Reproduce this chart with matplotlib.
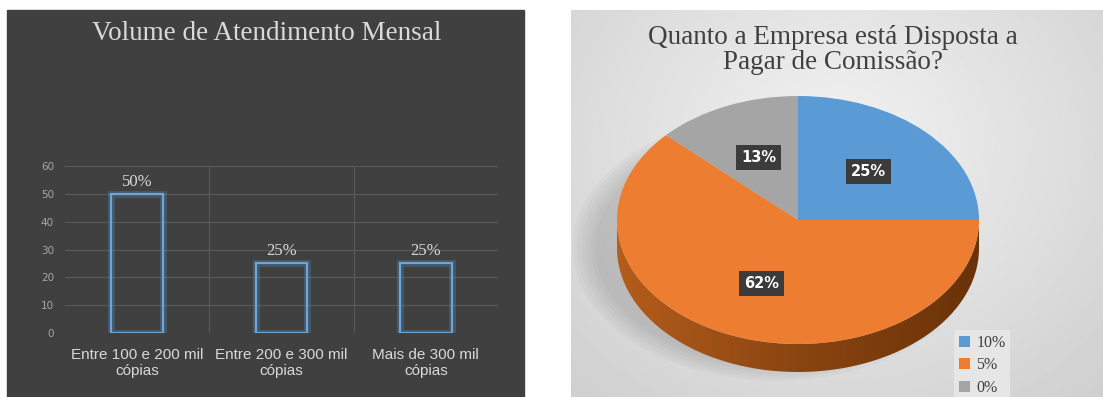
import numpy as np
import matplotlib
matplotlib.use('Agg')
import matplotlib.pyplot as plt
from matplotlib.patches import Rectangle, Polygon, Ellipse
from matplotlib.colors import LinearSegmentedColormap

# dados - grafico de barras
faixas = ['Entre 100 e 200 mil\ncópias', 'Entre 200 e 300 mil\ncópias', 'Mais de 300 mil\ncópias']
volume = [50, 25, 25]
volume_rotulos = ['50%', '25%', '25%']
y_ticks = [0, 10, 20, 30, 40, 50, 60]

# dados - pizza
comissao = ['10%', '5%', '0%']
comissao_pct = [25, 62, 13]
cores_pie = ['#5b9bd5', '#ed7d31', '#a5a5a5']

W, H = 1103, 397
fig = plt.figure(figsize=(W / 100, H / 100), dpi=100)
fig.patch.set_facecolor('white')


def box(x0, y0, x1, y1):
    # pixels (origem no topo) -> fracao da figura
    return [x0 / W, 1 - y1 / H, (x1 - x0) / W, (y1 - y0) / H]


serif = 'Liberation Serif'
sans = 'Liberation Sans'

# ---------------- painel esquerdo ----------------
fig.add_artist(Rectangle((7 / W, 0), (524 - 7) / W, 1 - 10 / H,
                         transform=fig.transFigure, color='#404040', zorder=0))

ax1 = fig.add_axes(box(65, 166, 498, 333))
ax1.set_facecolor('none')
x = np.arange(len(faixas))
ax1.bar(x, volume, width=0.36, facecolor='none', edgecolor='#5b9bd5', lw=5, alpha=0.25, zorder=3)
ax1.bar(x, volume, width=0.36, facecolor='none', edgecolor='#6aa6dc', lw=1.6, zorder=4)
for i, v in enumerate(volume):
    ax1.annotate(volume_rotulos[i], (i, v), xytext=(0, 3), textcoords='offset points',
                 ha='center', va='bottom', family=serif, fontsize=12, color='#d9d9d9')
ax1.set_xlim(-0.5, 2.5)
ax1.set_ylim(0, 60)
ax1.set_yticks(y_ticks)
ax1.set_xticks(x)
ax1.set_xticklabels(faixas, family=sans, fontsize=11, color='#d9d9d9', linespacing=1.2)
ax1.tick_params(axis='y', length=0, labelsize=7.5, labelcolor='#a6a6a6', pad=8)
ax1.tick_params(axis='x', length=0, pad=11)
ax1.yaxis.grid(True, color='#5a5a5a', lw=0.8)
ax1.set_axisbelow(True)
for xv in [0.5, 1.5, 2.5]:
    ax1.axvline(xv, color='#5a5a5a', lw=0.8, zorder=1)
for s in ax1.spines.values():
    s.set_visible(False)

fig.text(267 / W, 1 - 34 / H, 'Volume de Atendimento Mensal', ha='center', va='center',
         family=serif, fontsize=19.5, color='#d9d9d9')

# ---------------- painel direito ----------------
ax_bg = fig.add_axes(box(571, 10, 1103, 397))
yy, xx = np.mgrid[0:1:200j, 0:1:300j]
r = np.sqrt(((xx - 0.5) / 0.75) ** 2 + ((yy - 0.35) / 0.9) ** 2)
grad = np.clip(0.95 - 0.14 * r, 0, 1)
ax_bg.imshow(grad, cmap='gray', vmin=0, vmax=1, extent=(0, 1, 0, 1), aspect='auto')
ax_bg.axis('off')

d = 28 / 124  # espessura da pizza
ax2 = fig.add_axes(box(617, 96, 979, 372))
ax2.set_facecolor('none')
wedges, texts, autotexts = ax2.pie(comissao_pct, colors=cores_pie, startangle=90,
                                   counterclock=False, autopct='%1.0f%%', pctdistance=0.55,
                                   wedgeprops=dict(linewidth=0))

# sombra (lado esquerdo)
for k in range(6):
    ax2.add_patch(Ellipse((-0.12, -0.22), 2.0 + 0.05 * k, 1.9 + 0.05 * k,
                          color='#707070', alpha=0.05, lw=0, zorder=0.5, clip_on=False))

cmap_lado = LinearSegmentedColormap.from_list('lado', ['#b45d1c', '#8a4510', '#6a3208'])
for w in wedges:
    w.set_zorder(3)
    t = np.radians(np.linspace(w.theta1, w.theta2, 300))
    t = t[np.sin(t) <= 0]
    if len(t) == 0:
        continue
    t = np.sort(t)
    topo = np.column_stack([np.cos(t), np.sin(t)])
    base = np.column_stack([np.cos(t[::-1]), np.sin(t[::-1]) - d])
    poly = Polygon(np.vstack([topo, base]), closed=True, facecolor='none', lw=0)
    ax2.add_patch(poly)
    im = ax2.imshow(np.linspace(0, 1, 256)[None, :], cmap=cmap_lado, extent=(-1, 1, -1 - d, 0),
                    aspect='auto', zorder=2)
    im.set_clip_path(poly)

for t in autotexts:
    t.set_color('white')
    t.set_fontweight('bold')
    t.set_family('DejaVu Sans')
    t.set_fontsize(10.5)
    t.set_zorder(5)
    t.set_bbox(dict(boxstyle='square,pad=0.35', fc='#3b3b3b', ec='none'))

ax2.set_aspect('auto')
ax2.set_xlim(-1, 1)
ax2.set_ylim(-1 - d, 1)
ax2.axis('off')

leg = ax2.legend(wedges, comissao, loc='upper left', bbox_to_anchor=(946 / W, 1 - 322 / H),
                 bbox_transform=fig.transFigure, prop=dict(family=serif, size=11.5),
                 frameon=True, facecolor='#e6e6e6', edgecolor='none', framealpha=1,
                 fancybox=False, handlelength=0.7, handleheight=0.7, handletextpad=0.4,
                 labelspacing=0.42, borderpad=0.3)
for t in leg.get_texts():
    t.set_color('#404040')

fig.text(833 / W, 1 - 50 / H, 'Quanto a Empresa está Disposta a\nPagar de Comissão?',
         ha='center', va='center', family=serif, fontsize=19.5, color='#404040', linespacing=0.95)

fig.savefig('out.png', dpi=100)
